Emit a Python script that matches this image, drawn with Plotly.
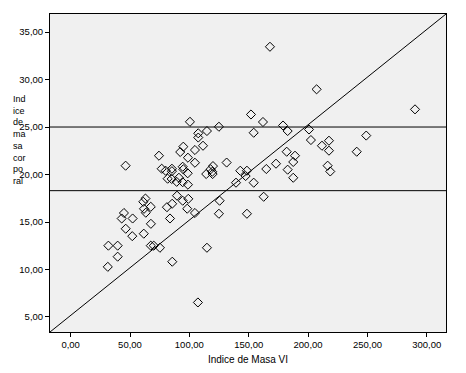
import plotly.graph_objects as go

# Indice de Masa VI (x) and Indice de masa corporal (y)
masa_vi = [
    167.9, 207.2, 290.1, 151.9, 100.5, 162.0, 124.9, 178.9, 200.8, 182.8,
    114.8, 107.5, 107.5, 154.2, 202.4, 211.7, 217.6, 217.6, 104.7, 111.5,
    94.9, 92.3, 98.8, 74.4, 182.0, 189.0, 187.5, 173.0, 164.8, 182.8,
    187.5, 216.5, 218.7, 104.7, 131.4, 119.9, 117.9, 119.3, 114.2, 119.6,
    142.9, 148.5, 147.4, 139.3, 154.2, 46.3, 76.7, 80.0, 85.3, 85.3,
    94.4, 94.9, 98.6, 81.7, 85.1, 91.2, 89.3, 94.4, 98.8, 162.6,
    125.5, 104.7, 124.9, 148.5, 89.6, 94.4, 99.1, 63.0, 61.2, 67.5,
    61.8, 63.3, 81.1, 85.5, 98.2, 44.9, 43.0, 52.2, 83.7, 46.4,
    67.6, 51.9, 61.6, 31.8, 39.6, 67.5, 70.0, 75.2, 114.8, 39.6,
    31.3, 85.6, 107.2, 241.0, 249.0,
]
masa_corporal = [
    33.45, 28.97, 26.86, 26.32, 25.55, 25.53, 25.03, 25.16, 24.74, 24.58,
    24.58, 24.34, 23.89, 24.40, 23.63, 23.03, 23.56, 22.51, 22.58, 23.03,
    22.93, 22.37, 21.77, 21.98, 22.40, 21.98, 21.32, 21.14, 20.58, 20.51,
    19.66, 20.93, 20.32, 21.24, 21.26, 20.89, 20.55, 20.29, 20.05, 20.05,
    20.40, 20.40, 19.84, 19.14, 19.14, 20.93, 20.61, 20.40, 20.61, 20.35,
    20.82, 20.55, 20.13, 19.56, 19.53, 19.66, 19.23, 19.19, 18.93, 17.66,
    17.24, 15.95, 15.87, 15.87, 17.77, 17.24, 17.44, 17.47, 17.13, 16.60,
    16.39, 15.98, 16.56, 16.92, 16.40, 15.95, 15.37, 15.37, 15.37, 14.29,
    14.81, 13.51, 13.77, 12.51, 12.51, 12.51, 12.51, 12.29, 12.29, 11.35,
    10.28, 10.82, 6.53, 22.40, 24.10,
]

x_tick_vals = [0, 50, 100, 150, 200, 250, 300]
x_tick_text = ["0,00", "50,00", "100,00", "150,00", "200,00", "250,00", "300,00"]
y_tick_vals = [5, 10, 15, 20, 25, 30, 35]
y_tick_text = ["5,00", "10,00", "15,00", "20,00", "25,00", "30,00", "35,00"]

ref_high = 25.0
ref_low = 18.3

x_title = "Indice de Masa VI"
y_title_lines = ["Ind", "ice", "de", "ma", "sa", "cor", "po", "ral"]

FONT = "Liberation Sans, Arial, sans-serif"

fig = go.Figure()
fig.add_trace(go.Scatter(
    x=masa_vi, y=masa_corporal, mode="markers",
    marker=dict(symbol="diamond-open", size=7, color="black",
                line=dict(width=1, color="black")),
    hoverinfo="x+y", showlegend=False,
))

for yv in (ref_high, ref_low):
    fig.add_shape(type="line", xref="paper", x0=0, x1=1, yref="y", y0=yv, y1=yv,
                  line=dict(color="black", width=1))

fig.add_shape(type="line", xref="paper", yref="paper", x0=0, y0=0, x1=1, y1=1,
              line=dict(color="black", width=1))

fig.add_annotation(
    text="<br>".join(y_title_lines), xref="paper", yref="paper",
    x=-0.0985, y=0.755, xanchor="left", yanchor="top", align="left",
    showarrow=False, font=dict(family=FONT, size=9, color="black"),
)

# page body has an 8px margin, so the figure is shrunk by 8px on each side
fig.update_layout(
    width=458, height=365,
    margin=dict(l=42, r=20, t=6, b=41, pad=0),
    paper_bgcolor="white", plot_bgcolor="#F0F0F0",
    font=dict(family=FONT, size=9.5, color="black"),
    xaxis=dict(
        range=[-17.4, 316.2], tickvals=x_tick_vals, ticktext=x_tick_text,
        ticks="outside", ticklen=4, tickcolor="black", tickwidth=1,
        showline=True, linecolor="black", linewidth=1, mirror=True,
        showgrid=False, zeroline=False,
        title=dict(text=x_title, font=dict(family=FONT, size=10), standoff=6),
    ),
    yaxis=dict(
        range=[3.42, 36.9], tickvals=y_tick_vals, ticktext=y_tick_text,
        ticks="outside", ticklen=4, tickcolor="black", tickwidth=1,
        showline=True, linecolor="black", linewidth=1, mirror=True,
        showgrid=False, zeroline=False,
    ),
)

fig.write_html("out.html")
